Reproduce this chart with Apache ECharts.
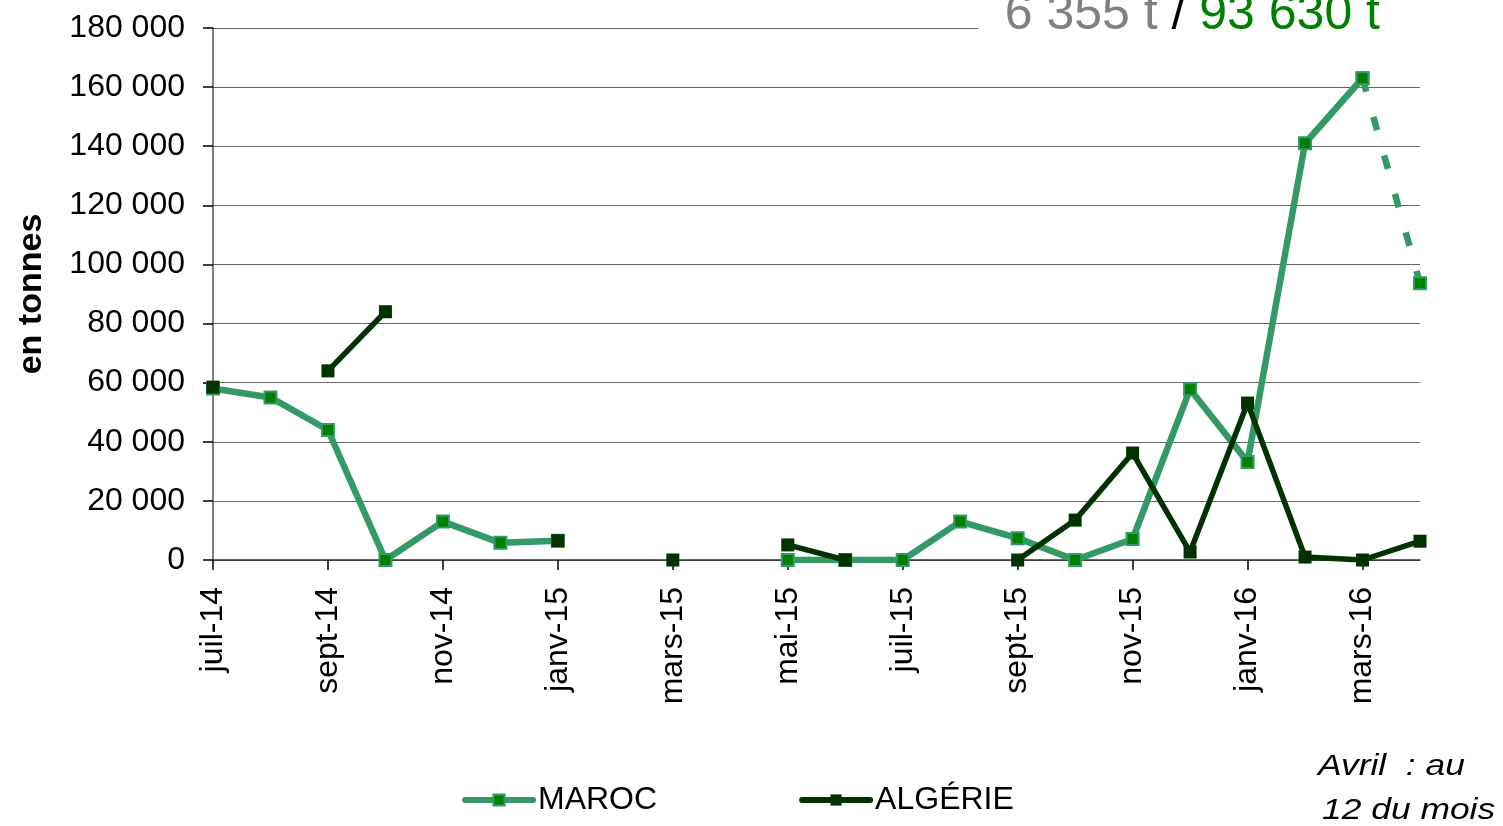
<!DOCTYPE html>
<html>
<head>
<meta charset="utf-8">
<script src="https://cdn.jsdelivr.net/npm/echarts@6/dist/echarts.min.js"></script>
<style>
  html, body { margin: 0; padding: 0; background: #fff; }
  #main { width: 1503px; height: 826px; }
</style>
</head>
<body>
<div id="main"></div>
<script>
// mois (juil-14 -> avr-16)
let months = ['juil-14', 'août-14', 'sept-14', 'oct-14', 'nov-14', 'déc-14',
    'janv-15', 'févr-15', 'mars-15', 'avr-15', 'mai-15', 'juin-15', 'juil-15',
    'août-15', 'sept-15', 'oct-15', 'nov-15', 'déc-15', 'janv-16', 'févr-16',
    'mars-16', 'avr-16'];

// en tonnes
let maroc = [58000, 55000, 44000, 0, 13000, 5800, 6500, null, null, null, 0, 0, 0,
    13000, 7400, 0, 7100, 57800, 33200, 141000, 163000, null];
// avril partiel (au 12 du mois), trait pointillé
let marocAvril = [null, null, null, null, null, null, null, null, null, null, null, null, null,
    null, null, null, null, null, null, null, 163000, 93630];
let algerie = [58500, null, 64000, 84000, null, null, 6500, null, 0, null, 5100, 0, null,
    null, 0, 13500, 36200, 2700, 53100, 1000, 0, 6355];

let yTicks = [0, 20000, 40000, 60000, 80000, 100000, 120000, 140000, 160000, 180000];

let font = 'Liberation Sans, Arial, sans-serif';

let initChart = () => {
    let element = document.getElementById('main');
    let myChart = echarts.init(element);

    let fmt = (v) => String(v).replace(/\B(?=(\d{3})+(?!\d))/g, ' ');

    let marocStyle = {
        type: 'line',
        symbol: 'rect',
        symbolSize: 12,
        showAllSymbol: true,
        connectNulls: false,
        itemStyle: { color: '#008000', borderColor: '#339966', borderWidth: 2 },
        emphasis: { disabled: true },
        z: 3
    };

    let option = {
        animation: false,
        backgroundColor: '#fff',
        textStyle: { fontFamily: font },
        grid: { left: 213, right: 83, top: 28, bottom: 266, containLabel: false },
        legend: {
            data: ['MAROC', 'ALGÉRIE'],
            left: 457,
            top: 779,
            itemWidth: 68,
            itemHeight: 14,
            itemGap: 142,
            lineStyle: { width: 6, cap: 'round' },
            textStyle: { fontSize: 32, color: '#000', fontFamily: font }
        },
        xAxis: {
            type: 'category',
            data: months,
            boundaryGap: false,
            axisLine: { lineStyle: { color: '#333', width: 1.5 } },
            axisTick: { show: true, interval: 1, length: 10, lineStyle: { color: '#000', width: 1.5 } },
            axisLabel: {
                interval: 1,
                rotate: 90,
                margin: 27,
                fontSize: 32,
                color: '#000',
                fontFamily: font
            },
            splitLine: { show: false }
        },
        yAxis: {
            type: 'value',
            min: 0,
            max: 180000,
            interval: 20000,
            name: 'en tonnes',
            nameLocation: 'middle',
            nameRotate: 90,
            nameGap: 164,
            nameTextStyle: { fontSize: 34, fontWeight: 'bold', color: '#000', fontFamily: font },
            axisLine: { show: true, lineStyle: { color: '#555', width: 1.5 } },
            axisTick: { show: true, length: 10, lineStyle: { color: '#000', width: 1.5 } },
            axisLabel: {
                margin: 28,
                fontSize: 32,
                color: '#000',
                fontFamily: font,
                formatter: (v) => yTicks.indexOf(v) >= 0 ? fmt(v) : ''
            },
            splitLine: { show: true, lineStyle: { color: '#666', width: 1.2 } }
        },
        series: [
            Object.assign({}, marocStyle, {
                name: 'MAROC',
                data: maroc,
                lineStyle: { color: '#339966', width: 6.5 }
            }),
            Object.assign({}, marocStyle, {
                name: 'MAROC',
                data: marocAvril,
                lineStyle: { color: '#339966', width: 6.5, type: [14, 26] }
            }),
            {
                name: 'ALGÉRIE',
                type: 'line',
                data: algerie,
                symbol: 'rect',
                symbolSize: 13,
                showAllSymbol: true,
                connectNulls: false,
                itemStyle: { color: '#003300' },
                lineStyle: { color: '#003300', width: 5.5 },
                emphasis: { disabled: true },
                z: 4
            }
        ],
        graphic: [
            {
                type: 'rect',
                left: 978,
                top: 0,
                shape: { width: 450, height: 40 },
                style: { fill: '#fff' },
                z: 10
            },
            {
                type: 'text',
                right: 123,
                top: -10,
                z: 11,
                style: {
                    text: '{g|6 355 t} {k|/} {v|93 630 t}',
                    font: '50px ' + font,
                    rich: {
                        g: { fontSize: 50, fill: '#808080', fontFamily: font },
                        k: { fontSize: 50, fill: '#000', fontFamily: font },
                        v: { fontSize: 50, fill: '#008000', fontFamily: font }
                    }
                }
            },
            {
                type: 'text',
                left: 1318,
                top: 752,
                z: 11,
                scaleX: 1.18,
                style: { text: 'Avril  : au', font: 'italic 30px ' + font, fill: '#000' }
            },
            {
                type: 'text',
                left: 1322,
                top: 796,
                z: 11,
                scaleX: 1.18,
                style: { text: '12 du mois', font: 'italic 30px ' + font, fill: '#000' }
            }
        ]
    };
    myChart.setOption(option);
};

initChart();
</script>
</body>
</html>
